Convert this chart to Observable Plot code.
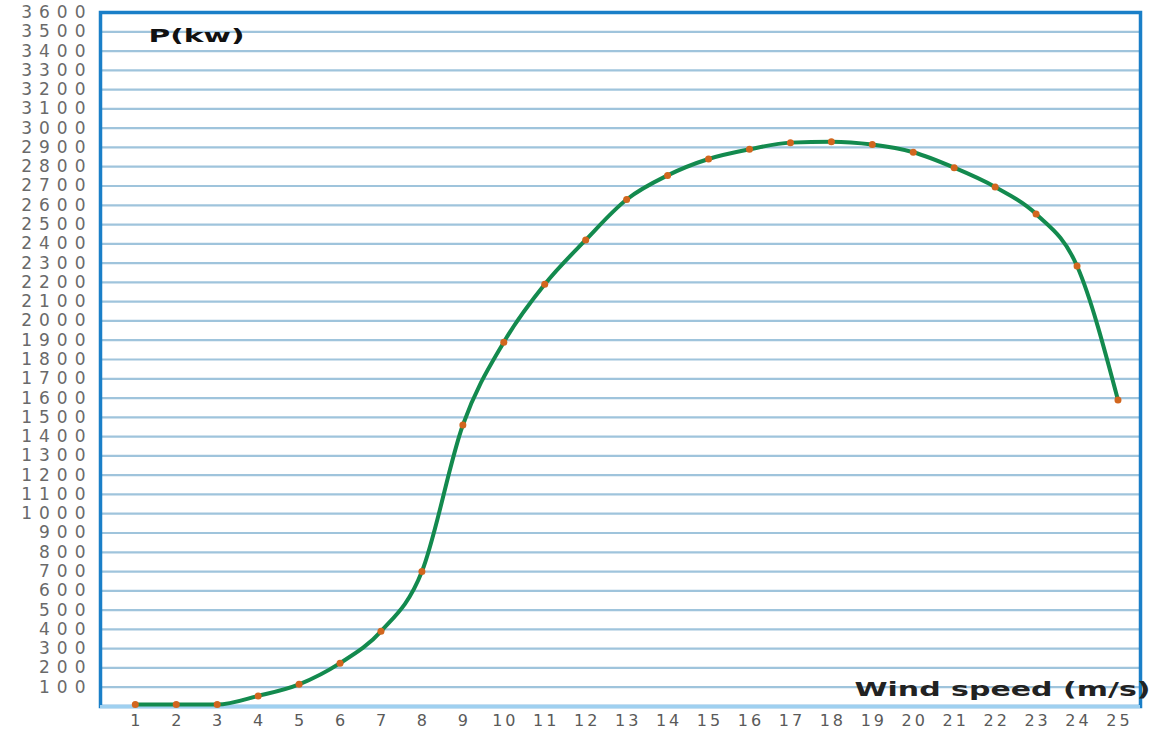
<!DOCTYPE html>
<html>
<head>
<meta charset="utf-8">
<script src="https://cdn.jsdelivr.net/npm/d3@7"></script>
<script src="https://cdn.jsdelivr.net/npm/@observablehq/plot@0.6"></script>
<style>
  html, body { margin: 0; padding: 0; background: #fff; }
  #chart svg { display: block; }
  #chart g[aria-label="y-axis tick label"] text { letter-spacing: 7px; }
  #chart g[aria-label="x-axis tick label"] text { letter-spacing: 3px; }
</style>
</head>
<body>
<div id="chart"></div>
<script>
const windSpeed = [1,2,3,4,5,6,7,8,9,10,11,12,13,14,15,16,17,18,19,20,21,22,23,24,25];
const power = [10,10,10,55,115,225,390,700,1460,1890,2190,2420,2630,2755,2840,2890,2925,2930,2915,2875,2795,2695,2555,2285,1590];
const yTicks = [100,200,300,400,500,600,700,800,900,1000,1100,1200,1300,1400,1500,1600,1700,1800,1900,2000,2100,2200,2300,2400,2500,2600,2700,2800,2900,3000,3100,3200,3300,3400,3500,3600];
const gridValues = yTicks.filter(v => v < 3600);
const xTicks = windSpeed;
const yTitle = "P(kw)";
const xTitle = "Wind speed (m/s)";

const data = windSpeed.map((x, i) => ({x, y: power[i]}));

const chart = Plot.plot({
  width: 1161,
  height: 740,
  marginLeft: 100,
  marginRight: 21,
  marginTop: 12,
  marginBottom: 34,
  style: {fontFamily: "DejaVu Sans, sans-serif", background: "#fff", overflow: "visible"},
  x: {domain: [0.15, 25.55]},
  y: {domain: [0, 3600]},
  marks: [
    Plot.ruleY(gridValues, {stroke: "#9fc4dc", strokeWidth: 2.2}),
    Plot.axisY({ticks: yTicks, tickFormat: d => String(d), tickSize: 0, tickPadding: 8, label: null, fontSize: 17, fill: "#6a6a6a"}),
    Plot.axisX({ticks: xTicks, tickFormat: d => String(d), tickSize: 0, tickPadding: 8, dx: 1.5, label: null, fontSize: 16, fill: "#5a5a5a"}),
    Plot.frame({stroke: "#1a7fc8", strokeWidth: 3.5}),
    Plot.ruleY([0], {stroke: "#9fd0f0", strokeWidth: 3}),
    Plot.line(data, {x: "x", y: "y", stroke: "#138a4e", strokeWidth: 4, curve: "monotone-x"}),
    Plot.dot(data, {x: "x", y: "y", r: 3.5, fill: "#d2661e", stroke: "none"}),
    Plot.text([yTitle], {frameAnchor: "top-left", dx: 48, dy: 17, fontSize: 18, fontWeight: "bold", fill: "#111", textAnchor: "start"}),
    Plot.text([xTitle], {frameAnchor: "bottom-right", dx: 10, dy: -11, fontSize: 20, fontWeight: "bold", fill: "#222", textAnchor: "end"})
  ]
});
d3.select(chart).selectAll('g[aria-label="text"] text').each(function() {
  const t = this.textContent;
  if (t === yTitle) { this.setAttribute("textLength", 96); this.setAttribute("lengthAdjust", "spacingAndGlyphs"); }
  if (t === xTitle) { this.setAttribute("textLength", 296); this.setAttribute("lengthAdjust", "spacingAndGlyphs"); }
});
document.getElementById("chart").appendChild(chart);
</script>
</body>
</html>
